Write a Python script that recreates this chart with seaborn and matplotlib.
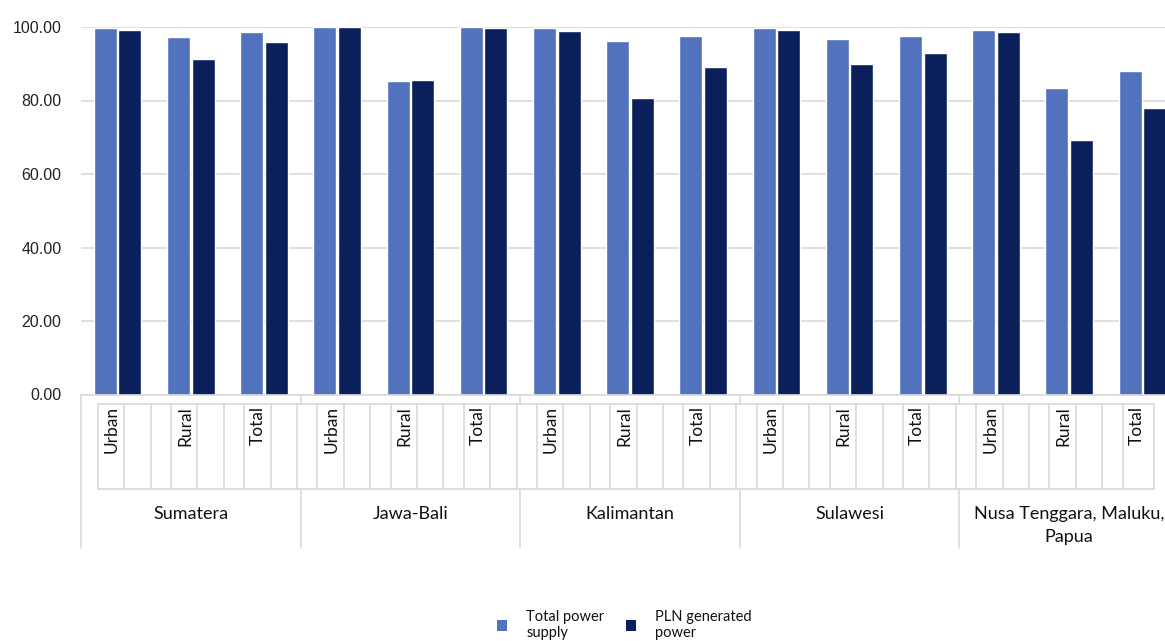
import matplotlib
matplotlib.use("Agg")
import matplotlib.pyplot as plt
import seaborn as sns
import pandas as pd
from matplotlib.patches import Patch

# ---- data ----
regions = ["Sumatera", "Jawa-Bali", "Kalimantan", "Sulawesi", "Nusa Tenggara, Maluku,\nPapua"]
areas = ["Urban", "Rural", "Total"]
series_names = ["Total power\nsupply", "PLN generated\npower"]
total_power_supply = [99.7, 97.4, 98.6, 100.0, 85.4, 100.0, 99.7, 96.1, 97.6,
                      99.7, 96.6, 97.6, 99.2, 83.4, 88.0]
pln_generated = [99.3, 91.4, 95.9, 99.9, 85.5, 99.7, 98.8, 80.6, 89.2,
                 99.3, 89.9, 92.8, 98.6, 69.2, 78.0]
y_ticks = [0, 20, 40, 60, 80, 100]
colors = ["#5272BE", "#0B1F5B"]

keys = [f"{r}|{a}" for r in regions for a in areas]
df = pd.DataFrame({
    "key": keys * 2,
    "value": total_power_supply + pln_generated,
    "series": [series_names[0]] * len(keys) + [series_names[1]] * len(keys),
})

W, H = 1165, 641
fig = plt.figure(figsize=(W / 100, H / 100), dpi=100)
sns.set_style("white")
plt.rcParams["font.family"] = ["Lato", "DejaVu Sans"]

ax0, ay0, ay1, ax1 = 81, 394.5, 27, 1179
ax = fig.add_axes([ax0 / W, (H - ay0) / H, (ax1 - ax0) / W, (ay0 - ay1) / H])

sns.barplot(data=df, x="key", y="value", hue="series", order=keys,
            hue_order=series_names, palette=colors, saturation=1,
            width=0.668, gap=0.06, legend=False, ax=ax)

ax.set_xlim(-0.5, len(keys) - 0.5)
ax.set_ylim(0, 100)
ax.set_yticks(y_ticks)
ax.set_yticklabels([f"{v:.2f}" for v in y_ticks], fontfamily="Liberation Sans",
                   fontsize=11.5, color="#222222")
ax.set_xlabel("")
ax.set_ylabel("")
ax.grid(axis="y", color="#D9D9D9", lw=1.2)
ax.set_axisbelow(True)
for s in ["top", "right", "left"]:
    ax.spines[s].set_visible(False)
ax.spines["bottom"].set_color("#D9D9D9")
ax.spines["bottom"].set_linewidth(1.2)
ax.tick_params(axis="x", length=0, labelbottom=False)
ax.tick_params(axis="y", length=0, pad=14)

# ---- multi-level category axis ----
tr = ax.get_xaxis_transform()
def yf(p):
    return (ay0 - p) / (ay0 - ay1)

lc = "#D9D9D9"
lw = 1.2
n = len(keys)
box_top, box_bot = 404, 489
left_edge, right_edge = -0.266, n - 1 + 0.16
for yy in (box_top, box_bot):
    ax.plot([left_edge, right_edge], [yf(yy), yf(yy)], color=lc, lw=lw,
            transform=tr, clip_on=False)
vlines = []
for c in range(n):
    vlines += [c - 0.27]
    if c < n - 1:
        vlines += [c + 0.09, c + 0.45]
vlines += [right_edge]
for xv in vlines:
    ax.plot([xv, xv], [yf(box_top), yf(box_bot)], color=lc, lw=lw,
            transform=tr, clip_on=False)
for c in range(n):
    ax.text(c - 0.08, yf(406), areas[c % 3], rotation=90, ha="center", va="top",
            fontsize=12.5, color="#111111", transform=tr)

for g in range(len(regions)):
    xb = 3 * g - 0.5
    if g == 0:
        ax.plot([xb, xb], [0, yf(548)], color=lc, lw=lw, transform=tr, clip_on=False)
    else:
        ax.plot([xb, xb], [0, yf(box_top)], color=lc, lw=lw, transform=tr, clip_on=False)
        ax.plot([xb, xb], [yf(box_bot), yf(548)], color=lc, lw=lw, transform=tr, clip_on=False)
    ax.text(3 * g + 1, yf(506), regions[g], ha="center", va="top", fontsize=13,
            linespacing=1.55, color="#111111", transform=tr)

# ---- legend ----
handles = [Patch(facecolor=colors[i], edgecolor="none") for i in range(2)]
leg = fig.legend(handles, series_names, loc="center", ncol=2, frameon=False,
                 bbox_to_anchor=(624.5 / W, 1 - 625 / H), fontsize=10.5,
                 handlelength=0.7, handleheight=0.7, handletextpad=1.3,
                 columnspacing=1.5, borderpad=0, labelcolor="#111111")
for t in leg.get_texts():
    t.set_linespacing(1.25)

fig.savefig("out.png", dpi=100)
